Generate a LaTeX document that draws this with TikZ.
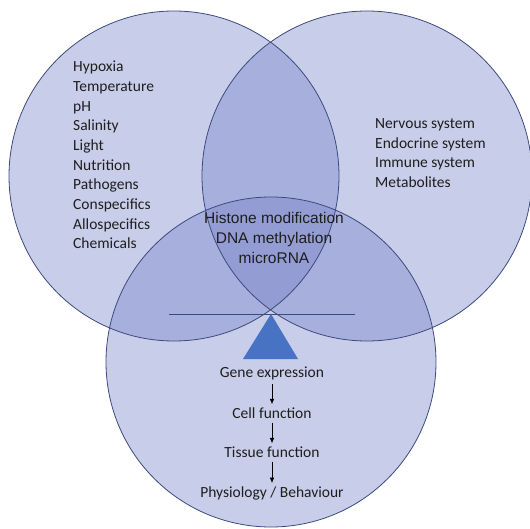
\documentclass[tikz,border=0pt]{standalone}
\usepackage{fontspec}
\setmainfont{Carlito}
\newfontfamily\arialfont{Liberation Sans}
\usetikzlibrary{arrows.meta}
\definecolor{setfill}{RGB}{117,130,200}
\definecolor{setline}{RGB}{60,74,125}
\definecolor{wedge}{RGB}{72,114,196}
\definecolor{txt}{RGB}{30,30,30}

\begin{document}
\begin{tikzpicture}[>=Latex,x=1pt,y=-1pt,
  setarea/.style={fill=setfill,fill opacity=0.4},
  setrim/.style={draw=setline,line width=0.8pt},
  listtext/.style={font=\fontsize{15.5}{19.7}\selectfont,text=txt,align=left,inner sep=0pt},
  flowtext/.style={font=\fontsize{15.5}{18}\selectfont,text=txt,inner sep=1pt},
  flowarrow/.style={->,line width=0.6pt,shorten <=3pt,shorten >=2pt,-{Latex[length=5.5pt,width=4.5pt]}}]
  \useasboundingbox (0,0) rectangle (530,529);
  % the three sets
  \fill[setarea] (174,176) circle (165);
  \fill[setarea] (367,176) circle (165);
  \fill[setarea] (271,362) circle (165);
  \draw[setrim] (174,176) circle (165);
  \draw[setrim] (367,176) circle (165);
  \draw[setrim] (271,362) circle (165);
  % balance
  \draw[setline,line width=0.6pt] (169,314) -- (355,314);
  \fill[wedge] (271,314) -- (243,359) -- (298,359) -- cycle;
  % lists
  \node[listtext,anchor=west] (environment) at (73,155)
    {Hypoxia\\Temperature\\pH\\Salinity\\Light\\Nutrition\\Pathogens\\Conspecifics\\Allospecifics\\Chemicals};
  \node[listtext,anchor=west] (internal) at (375,153)
    {Nervous system\\Endocrine system\\Immune system\\Metabolites};
  \node[font=\arialfont\fontsize{15.5}{20}\selectfont,text=txt,align=center,inner sep=0pt] (epigenetic) at (274,238)
    {Histone modification\\DNA methylation\\microRNA};
  % cascade
  \node[flowtext] (gene) at (272,373) {Gene expression};
  \node[flowtext] (cell) at (272,413) {Cell function};
  \node[flowtext] (tissue) at (272,452) {Tissue function};
  \node[flowtext] (physiology) at (272,493) {Physiology / Behaviour};
  \draw[flowarrow] (gene) -- (cell);
  \draw[flowarrow] (cell) -- (tissue);
  \draw[flowarrow] (tissue) -- (physiology);
\end{tikzpicture}
\end{document}
